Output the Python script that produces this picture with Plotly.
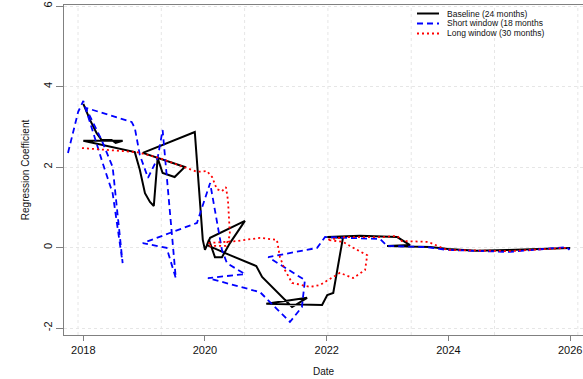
import plotly.graph_objects as go

# Rolling regression coefficients for three estimation window lengths
baseline_dates = [
    "2018-01-01", "2018-02-10", "2018-03-22", "2018-04-21", "2018-06-20", "2018-07-14",
    "2018-08-25", "2018-01-01", "2018-11-06", "2018-12-06", "2019-01-06", "2019-02-05",
    "2019-02-28", "2019-03-23", "2019-04-22", "2019-07-03", "2019-09-02", "2018-12-24",
    "2019-11-01", "2019-12-19", "2020-01-01", "2020-02-01", "2020-08-28", "2020-05-30",
    "2020-04-12", "2020-03-01", "2020-01-25", "2020-01-13", "2020-05-30", "2020-11-04",
    "2020-12-09", "2021-02-14", "2021-06-07", "2021-09-05", "2021-01-03", "2021-12-04",
    "2022-01-04", "2022-02-09", "2022-02-27", "2022-03-15", "2022-04-08", "2022-01-04",
    "2022-07-19", "2023-02-28", "2023-05-16", "2022-12-29", "2023-09-13", "2023-12-31",
    "2024-06-15", "2024-12-19", "2025-07-01", "2026-01-01",
]
baseline_coef = [
    3.57, 3.17, 2.84, 2.67, 2.67, 2.60,
    2.65, 2.65, 2.37, 1.93, 1.35, 1.13,
    1.03, 2.22, 1.85, 1.75, 2.00, 2.35,
    2.87, 0.19, -0.06, 0.24, 0.66, 0.11,
    -0.24, -0.24, 0.19, 0.06, -0.19, -0.46,
    -0.73, -1.01, -1.48, -1.25, -1.40, -1.43,
    -1.18, -1.13, -0.68, -0.26, 0.24, 0.26,
    0.29, 0.26, 0.06, 0.04, 0.01, -0.04,
    -0.08, -0.06, -0.04, -0.01,
]

short_dates = [
    "2017-10-01", "2017-12-01", "2018-01-01", "2018-02-28", "2018-04-27", "2018-06-26",
    "2018-08-25", "2018-06-26", "2018-04-21", "2018-01-16", "2018-10-18", "2018-11-06",
    "2018-12-06", "2019-01-24", "2019-03-23", "2019-04-22", "2019-05-16", "2019-06-10",
    "2019-07-10", "2019-05-16", "2018-12-24", "2019-06-04", "2019-11-14", "2020-02-01",
    "2020-03-12", "2020-04-12", "2020-05-12", "2020-08-28", "2020-01-19", "2020-11-27",
    "2021-03-13", "2021-05-25", "2021-08-05", "2021-08-23", "2021-01-15", "2021-11-04",
    "2021-12-22", "2022-11-17", "2022-12-29", "2023-08-26", "2023-12-24", "2024-07-01",
    "2025-01-01", "2025-12-10", "2025-12-28",
]
short_coef = [
    2.35, 3.37, 3.64, 2.84, 2.10, 1.35,
    -0.39, 2.00, 2.67, 3.47, 3.12, 2.97,
    2.30, 1.73, 2.22, 2.92, 1.80, 0.43,
    -0.76, -0.01, 0.11, 0.36, 0.61, 1.60,
    0.68, -0.06, -0.39, -0.66, -0.76, -1.11,
    -1.55, -1.85, -1.48, -0.81, -0.24, -0.01,
    0.26, 0.21, 0.04, 0.01, -0.06, -0.08,
    -0.11, 0.01, -0.06,
]

long_dates = [
    "2017-12-24", "2018-06-08", "2018-11-18", "2019-04-04", "2019-08-21", "2019-11-14",
    "2020-01-13", "2020-02-13", "2020-03-12", "2020-04-12", "2020-05-06", "2020-05-18",
    "2020-05-30", "2020-05-06", "2020-02-01", "2020-01-19", "2020-07-10", "2020-11-27",
    "2021-03-08", "2021-03-26", "2021-04-25", "2021-06-07", "2021-09-23", "2021-11-22",
    "2022-03-21", "2022-06-08", "2022-08-19", "2022-09-01", "2022-07-02", "2022-04-08",
    "2022-01-04", "2022-04-20", "2022-12-05", "2023-02-28", "2023-03-28", "2023-09-02",
    "2023-12-24", "2025-01-01", "2025-12-10",
]
long_coef = [
    2.47, 2.42, 2.37, 2.22, 2.00, 1.88,
    1.90, 1.75, 1.45, 1.40, 1.50, 1.18,
    0.31, 0.04, 0.04, 0.11, 0.16, 0.24,
    0.19, -0.24, -0.56, -0.88, -0.98, -0.93,
    -0.63, -0.76, -0.56, -0.19, -0.06, 0.14,
    0.19, 0.26, 0.26, 0.29, 0.16, 0.14,
    -0.06, -0.09, -0.01,
]

series_names = ["Baseline (24 months)", "Short window (18 months", "Long window (30 months)"]
year_ticks = ["2018-01-01", "2020-01-01", "2022-01-01", "2024-01-01", "2026-01-01"]
year_labels = ["2018", "2020", "2022", "2024", "2026"]
coef_ticks = [-2, 0, 2, 4, 6]
# vertical guide lines every 500 days (day 17500 .. 20500 since 1970-01-01)
grid_dates = ["2017-11-30", "2019-04-14", "2020-08-26", "2022-01-08",
              "2023-05-23", "2024-10-04", "2026-02-16"]

W, H = 583, 379
ML, MR, MT, MB = 64, 0, 5, 44
FONT = "Liberation Sans, Arial, Helvetica, sans-serif"
GRID = "#e6e6e6"

styles = [
    dict(color="#000000", width=2.0, dash="solid"),
    dict(color="#0000ff", width=1.8, dash="6px,4px"),
    dict(color="#ff0000", width=1.8, dash="2px,3px"),
]

fig = go.Figure()
for name, xs, ys, st in zip(series_names,
                            [baseline_dates, short_dates, long_dates],
                            [baseline_coef, short_coef, long_coef],
                            styles):
    fig.add_trace(go.Scatter(x=xs, y=ys, mode="lines", name=name,
                             line=dict(color=st["color"], width=st["width"], dash=st["dash"]),
                             showlegend=False, hoverinfo="skip"))

shapes = []
for d in grid_dates:
    shapes.append(dict(type="line", xref="x", yref="paper", x0=d, x1=d, y0=0, y1=1,
                       line=dict(color=GRID, width=1, dash="dot"), layer="below"))

# legend drawn in the top-right corner of the plot region
pw = W - ML - MR
ph = H - MT - MB


def px_x(px):
    return (px - ML) / pw


def px_y(py):
    return (H - MB - py) / ph


annotations = []
for i, (name, st) in enumerate(zip(series_names, styles)):
    row = 13.5 + i * 10.0
    shapes.append(dict(type="line", xref="paper", yref="paper",
                       x0=px_x(417), x1=px_x(439), y0=px_y(row), y1=px_y(row),
                       line=dict(color=st["color"], width=st["width"], dash=st["dash"])))
    annotations.append(dict(xref="paper", yref="paper", x=px_x(446), y=px_y(row),
                            text=name, showarrow=False, xanchor="left", yanchor="middle",
                            borderpad=0,
                            font=dict(family=FONT, size=8.5, color="#111111")))

fig.update_layout(
    width=W, height=H,
    margin=dict(l=ML, r=MR, t=MT, b=MB),
    paper_bgcolor="white", plot_bgcolor="white",
    font=dict(family=FONT, color="#111111"),
    shapes=shapes, annotations=annotations,
    xaxis=dict(
        type="date", range=["2017-09-07", "2026-03-19"],
        tickvals=year_ticks, ticktext=year_labels,
        ticks="outside", ticklen=5, tickcolor="#808080", tickwidth=1,
        showline=True, linecolor="#808080", linewidth=1, mirror=True,
        showgrid=False, zeroline=False,
        tickfont=dict(size=11, color="#111111"),
        title=dict(text="Date", font=dict(size=10, color="#111111"), standoff=12),
    ),
    yaxis=dict(
        range=[-2.174, 6.025],
        tickvals=coef_ticks, ticktext=[str(v) for v in coef_ticks],
        tickangle=-90,
        ticks="outside", ticklen=7, tickcolor="#808080", tickwidth=1,
        showline=True, linecolor="#808080", linewidth=1,
        showgrid=True, gridcolor=GRID, griddash="dot", gridwidth=1,
        zeroline=False,
        tickfont=dict(size=11, color="#111111"),
        title=dict(text="Regression Coefficient", font=dict(size=10, color="#111111"), standoff=10),
    ),
)

fig.write_html("out.html")
